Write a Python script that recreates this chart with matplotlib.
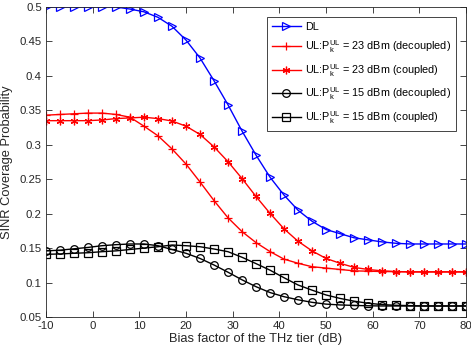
import matplotlib
matplotlib.use("Agg")
import matplotlib.pyplot as plt
import numpy as np

# Bias factor of the THz tier (dB), one marker every 3 dB
bias = np.arange(-10, 81, 3)

dl = [0.500, 0.500, 0.500, 0.500, 0.500, 0.500, 0.497, 0.493, 0.485, 0.472,
      0.452, 0.426, 0.393, 0.358, 0.320, 0.285, 0.253, 0.227, 0.205, 0.189,
      0.177, 0.171, 0.165, 0.162, 0.159, 0.157, 0.156, 0.156, 0.156, 0.156,
      0.156]
ul23_dec = [0.343, 0.344, 0.345, 0.346, 0.346, 0.344, 0.340, 0.327, 0.313, 0.294,
            0.272, 0.246, 0.219, 0.194, 0.174, 0.158, 0.145, 0.134, 0.128, 0.123,
            0.121, 0.119, 0.117, 0.1165, 0.116, 0.1158, 0.1155, 0.1155, 0.1155, 0.1155,
            0.1155]
ul23_cou = [0.335, 0.335, 0.335, 0.335, 0.336, 0.338, 0.339, 0.340, 0.338, 0.3345,
            0.327, 0.315, 0.297, 0.2755, 0.251, 0.225, 0.2005, 0.178, 0.160, 0.146,
            0.135, 0.128, 0.122, 0.119, 0.117, 0.116, 0.1155, 0.1155, 0.1155, 0.1155,
            0.1155]
ul15_dec = [0.146, 0.147, 0.149, 0.151, 0.1535, 0.155, 0.156, 0.156, 0.1535, 0.148,
            0.1425, 0.135, 0.1255, 0.115, 0.104, 0.094, 0.0855, 0.0795, 0.075, 0.0713,
            0.0687, 0.0675, 0.0668, 0.0663, 0.066, 0.066, 0.066, 0.066, 0.066, 0.066,
            0.066]
ul15_cou = [0.141, 0.1415, 0.1425, 0.1433, 0.1448, 0.146, 0.148, 0.150, 0.152, 0.1545,
            0.1535, 0.152, 0.1487, 0.1448, 0.1367, 0.1275, 0.118, 0.107, 0.0965, 0.089,
            0.082, 0.077, 0.073, 0.070, 0.068, 0.067, 0.0665, 0.066, 0.066, 0.066,
            0.066]

labels = ["DL",
          r"UL:P$_{\rm k}^{\rm UL}$ = 23 dBm (decoupled)",
          r"UL:P$_{\rm k}^{\rm UL}$ = 23 dBm (coupled)",
          r"UL:P$_{\rm k}^{\rm UL}$ = 15 dBm (decoupled)",
          r"UL:P$_{\rm k}^{\rm UL}$ = 15 dBm (coupled)"]

plt.rcParams["font.family"] = "Liberation Sans"
plt.rcParams["mathtext.fontset"] = "custom"
plt.rcParams["mathtext.rm"] = "Liberation Sans"
plt.rcParams["mathtext.it"] = "Liberation Sans"
plt.rcParams["axes.unicode_minus"] = False

fig = plt.figure(figsize=(4.71, 3.53), dpi=100)
ax = fig.add_axes([46 / 471, 1 - 317 / 353, 420 / 471, 310 / 353])

style = dict(lw=1.0, ms=5.5, mfc="none", mew=0.9)
ax.plot(bias, dl, color="blue", marker=">", label=labels[0], **style)
ax.plot(bias, ul23_dec, color="red", marker="+", label=labels[1], **style)
ax.plot(bias, ul23_cou, color="red", marker=(6, 2, 0), label=labels[2], **style)
ax.plot(bias, ul15_dec, color="black", marker="o", label=labels[3], **style)
ax.plot(bias, ul15_cou, color="black", marker="s", label=labels[4], **style)

ax.set_xlim(-10, 80)
ax.set_ylim(0.05, 0.5)
ax.set_xticks(np.arange(-10, 81, 10))
ax.set_yticks(np.arange(0.05, 0.501, 0.05))
ax.set_yticklabels(["0.05", "0.1", "0.15", "0.2", "0.25", "0.3", "0.35", "0.4", "0.45", "0.5"])
ax.tick_params(direction="in", top=True, right=True, labelsize=8.2, colors="#262626",
               length=4, width=0.6, pad=3)
for s in ax.spines.values():
    s.set_color("#262626")
    s.set_linewidth(0.6)

ax.set_xlabel("Bias factor of the THz tier (dB)", fontsize=9.3, color="#262626", labelpad=1)
ax.set_ylabel("SINR Coverage Probability", fontsize=9.3, color="#262626", labelpad=5)

leg = ax.legend(loc="upper right", fontsize=7.8, fancybox=False, framealpha=1,
                edgecolor="#262626", borderpad=0.45, labelspacing=0.62,
                handlelength=2.7, handletextpad=0.4, borderaxespad=0.9)
leg.get_frame().set_linewidth(0.6)

fig.savefig("out.png", dpi=100)
